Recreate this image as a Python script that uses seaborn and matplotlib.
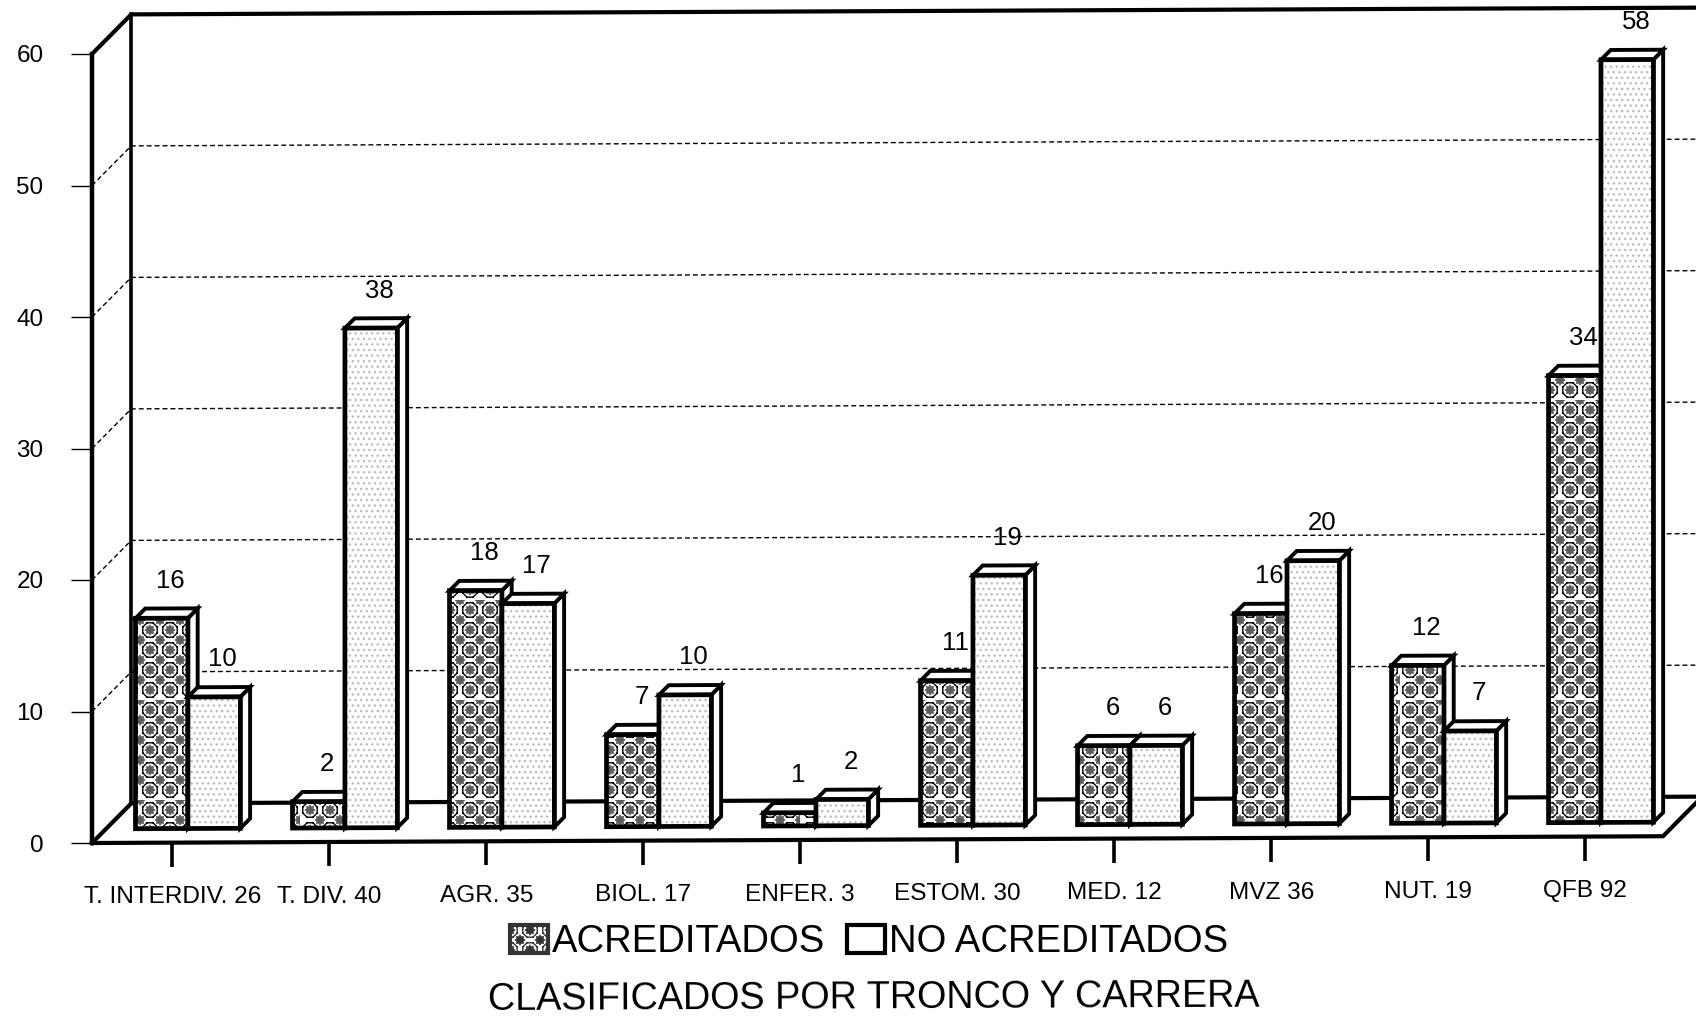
# Acreditados / no acreditados por tronco y carrera
import matplotlib
matplotlib.use("Agg")
import matplotlib.hatch as mhatch
import matplotlib.pyplot as plt
from matplotlib.patches import Patch, Polygon, Rectangle
from matplotlib.path import Path
from matplotlib.transforms import Affine2D
import numpy as np
import pandas as pd
import seaborn as sns

carreras = ['T. INTERDIV. 26', 'T. DIV. 40', 'AGR. 35', 'BIOL. 17', 'ENFER. 3',
            'ESTOM. 30', 'MED. 12', 'MVZ 36', 'NUT. 19', 'QFB 92']
acreditados = [16, 2, 18, 7, 1, 11, 6, 16, 12, 34]
no_acreditados = [10, 38, 17, 10, 2, 19, 6, 20, 7, 58]
y_ticks = [0, 10, 20, 30, 40, 50, 60]

W, H = 1696, 1016
DEPTH_X, DEPTH_Y = 0.062, 0.74   # bar depth
WALL_X, WALL_Y = 0.25, 3.0       # wall depth
BASE = 1.07
CELLS = 5                        # pattern repeats per hatch tile


class TilePattern(mhatch.HatchPatternBase):
    char = ''

    def __init__(self, hatch, density):
        self.path = self.shape() if self.char in hatch else None
        self.num_vertices = 0 if self.path is None else len(self.path.vertices)

    def set_vertices_and_codes(self, vertices, codes):
        vertices[:] = self.path.vertices
        codes[:] = self.path.codes


class Rosettes(TilePattern):
    # gray flowers on a staggered lattice
    char = 'O'

    def shape(self):
        star = Path.unit_regular_star(8, 0.68)
        paths = []
        for i in range(CELLS):
            for j in range(CELLS):
                for off in (0, 0.5):
                    v = star.vertices * 0.045 + [(i + off + 0.5) / CELLS, (j + off + 0.5) / CELLS]
                    paths.append(Path(v, star.codes))
        return Path.make_compound_path(*paths)


class Rings(TilePattern):
    # black octagons round every other flower, as open segments so only the stroke shows
    char = 'x'

    def shape(self):
        ang = np.pi / 8 + np.arange(9) * np.pi / 4
        ring = np.column_stack([np.cos(ang), np.sin(ang)]) * 0.078
        paths = []
        for i in range(CELLS):
            for j in range(CELLS):
                c = np.array([(i + 0.5) / CELLS, (j + 0.5) / CELLS])
                for a, b in zip(ring[:-1], ring[1:]):
                    paths.append(Path([c + a, c + b], [Path.MOVETO, Path.LINETO]))
        return Path.make_compound_path(*paths)


mhatch._hatch_types[:] = [Rosettes, Rings, mhatch.SmallFilledCircles]

sns.set_style("white")
plt.rcParams['font.family'] = ['Liberation Sans', 'DejaVu Sans']
plt.rcParams['hatch.linewidth'] = 1.0
plt.rcParams['text.color'] = 'black'
plt.rcParams['xtick.color'] = 'black'
plt.rcParams['ytick.color'] = 'black'

df = pd.DataFrame({
    'carrera': carreras * 2,
    'valor': acreditados + no_acreditados,
    'grupo': ['ACREDITADOS'] * 10 + ['NO ACREDITADOS'] * 10,
})

fig = plt.figure(figsize=(W / 100, H / 100), dpi=100)
ax = fig.add_axes([92 / W, (H - 843) / H, (1663 - 92) / W, (843 - 54) / H])

sns.barplot(data=df, x='carrera', y='valor', hue='grupo', order=carreras,
            palette=['white', 'white'], saturation=1, width=0.668, gap=0,
            bottom=BASE, linewidth=0, legend=False, ax=ax, errorbar=None)

x_min, x_max = -0.611, 9.395
ax.set_autoscale_on(False)
ax.set_xlim(x_min, x_max)
ax.set_ylim(0, 60)

# scan is slightly rotated, right side sits higher
tilt = Affine2D.from_values(1, 0.0043, 0, 1, 0, -0.0043 * 92)
tr = ax.transData + tilt


def line(xs, ys, lw=3, **kw):
    ax.plot(xs, ys, color='black', lw=lw, transform=tr, clip_on=False, zorder=2,
            solid_capstyle='projecting', **kw)


# floor and walls
line([x_min, x_max, x_max + WALL_X], [0, 0, WALL_Y])
line([x_min, x_min + WALL_X, x_max + WALL_X + 1], [0, WALL_Y, WALL_Y])
line([x_min, x_min + WALL_X, x_max + 1], [60, 60 + WALL_Y, 60 + WALL_Y])
line([x_min + WALL_X, x_min + WALL_X], [WALL_Y, 60 + WALL_Y], lw=2.6)
for v in y_ticks[1:-1]:
    ax.plot([x_min, x_min + WALL_X, x_max + 1], [v, v + WALL_Y, v + WALL_Y],
            color='black', lw=1, ls=(0, (3.5, 2.2)), transform=tr, clip_on=False, zorder=1)

# 3d boxes on top of the seaborn bars
bars = []
for cont, hatch, hcolor, mesh, vals in zip(ax.containers, ['O', '...'], ['#5c5c5c', '#bdbdbd'],
                                           ['x', None], [acreditados, no_acreditados]):
    for p, v in zip(cont, vals):
        p.set_hatch(hatch)
        p.set_edgecolor(hcolor)
        p.set_linewidth(0)
        p.set_transform(tr)
        p.set_clip_on(False)
        bars.append((p, v, mesh))

bars.sort(key=lambda b: b[0].get_x())
for i, (p, v, mesh) in enumerate(bars):
    z = 3 + i * 0.01
    x0, y0, w, h = p.get_x(), p.get_y(), p.get_width(), p.get_height()
    x1, y1 = x0 + w, y0 + h
    side = [(x1, y0), (x1 + DEPTH_X, y0 + DEPTH_Y), (x1 + DEPTH_X, y1 + DEPTH_Y), (x1, y1)]
    top = [(x0, y1), (x0 + DEPTH_X, y1 + DEPTH_Y), (x1 + DEPTH_X, y1 + DEPTH_Y), (x1, y1)]
    for pts in (side, top):
        ax.add_patch(Polygon(pts, closed=True, fc='white', ec='black', lw=2.8, transform=tr,
                             clip_on=False, zorder=z))
    p.set_zorder(z + 0.002)
    ax.add_patch(Rectangle((x0, y0), w, h, fc='none', ec='black', lw=3.4, hatch=mesh, transform=tr,
                           clip_on=False, zorder=z + 0.004))
    ax.text(x0 + w / 2 + 0.055, y1 + 2.85, str(v), fontsize=18.5, ha='center', va='center',
            transform=tr, zorder=20)

# axes
ax.set_xticks([i - 0.1 for i in range(len(carreras))], carreras)
ax.set_yticks(y_ticks)
ax.set_xlabel('')
ax.set_ylabel('')
ax.tick_params(axis='y', length=15, width=1, pad=20, labelsize=17.5, left=True)
ax.tick_params(axis='x', length=17, width=2.6, pad=14.5, labelsize=17.6, bottom=True)
for t in ax.xaxis.get_major_ticks():
    t.tick1line.set_transform(t.tick1line.get_transform() + tilt)
    t.label1.set_transform(t.label1.get_transform() + tilt)
sns.despine(ax=ax, top=True, right=True, bottom=True)
ax.spines['left'].set_linewidth(3.2)
ax.spines['left'].set_color('black')
ax.patch.set_alpha(0)

handles = [Patch(fc='white', ec='#333333', hatch='Ox', lw=3),
           Patch(fc='white', ec='black', lw=3)]
fig.legend(handles, ['ACREDITADOS', 'NO ACREDITADOS'], ncol=2, loc='center',
           bbox_to_anchor=(869 / W, 1 - 942 / H), frameon=False, fontsize=27.5,
           handlelength=1.0, handleheight=0.76, handletextpad=0.1, columnspacing=0.55,
           borderpad=0, borderaxespad=0)
fig.text(874 / W, 1 - 998 / H, 'CLASIFICADOS POR TRONCO Y CARRERA', fontsize=27.2,
         ha='center', va='center', rotation=0.25)

fig.savefig('out.png', dpi=100)
